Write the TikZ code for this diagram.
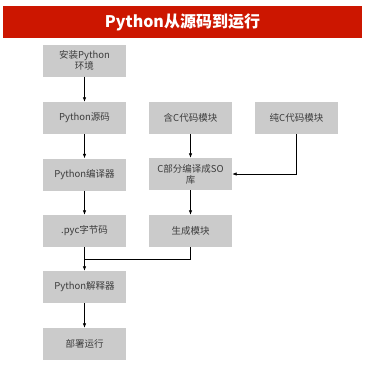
\documentclass[tikz,border=0pt]{standalone}
\usepackage{fontspec}
\setmainfont{Noto Sans CJK SC}
\usetikzlibrary{arrows.meta}
\definecolor{titleRed}{RGB}{204,22,0}
\definecolor{boxGray}{RGB}{203,203,203}
\definecolor{textGray}{RGB}{60,60,60}
\tikzset{
  stepbox/.style={fill=boxGray,minimum width=83pt,minimum height=32pt,inner sep=1pt,
                  align=center,text width=81pt,font=\fontsize{9.5}{11}\selectfont,text=textGray},
  flow/.style={line width=0.7pt,-{Latex[length=4.5pt,width=3.5pt]}},
  flowline/.style={line width=0.7pt}
}

\begin{document}
\begin{tikzpicture}[x=1pt,y=-1pt]
\useasboundingbox (0,0) rectangle (369,378);
% title bar
\node[fill=titleRed,minimum width=359pt,minimum height=32pt,inner sep=0pt,
      font=\bfseries\fontsize{16}{18}\selectfont,text=white] (title) at (182.5,22) {Python从源码到运行};
% left column
\node[stepbox] (install) at (84.5,60.5) {安装Python\\环境};
\node[stepbox] (pysrc) at (84.5,118) {Python源码};
\node[stepbox] (compiler) at (84.5,174.5) {Python编译器};
\node[stepbox] (pyc) at (84.5,231) {.pyc字节码};
\node[stepbox] (interp) at (84.5,287) {Python解释器};
\node[stepbox] (deploy) at (84.5,344) {部署运行};
% C modules
\node[stepbox] (cmod) at (190.5,118) {含C代码模块};
\node[stepbox] (cpart) at (190.5,174) {C部分编译成SO\\库};
\node[stepbox] (gen) at (190.5,231) {生成模块};
\node[stepbox] (purec) at (296.5,118) {纯C代码模块};
\coordinate (join) at (84.5,259);

\draw[flow] (install) -- (pysrc);
\draw[flow] (pysrc) -- (compiler);
\draw[flow] (compiler) -- (pyc);
\draw[flow] (pyc) -- (interp);
\draw[flow] (interp) -- (deploy);
\draw[flow] (cmod) -- (cpart);
\draw[flow] (cpart) -- (gen);
\draw[flow] (purec.south) |- (cpart.east);
\draw[flowline] (gen.south) |- (join);
\end{tikzpicture}
\end{document}
